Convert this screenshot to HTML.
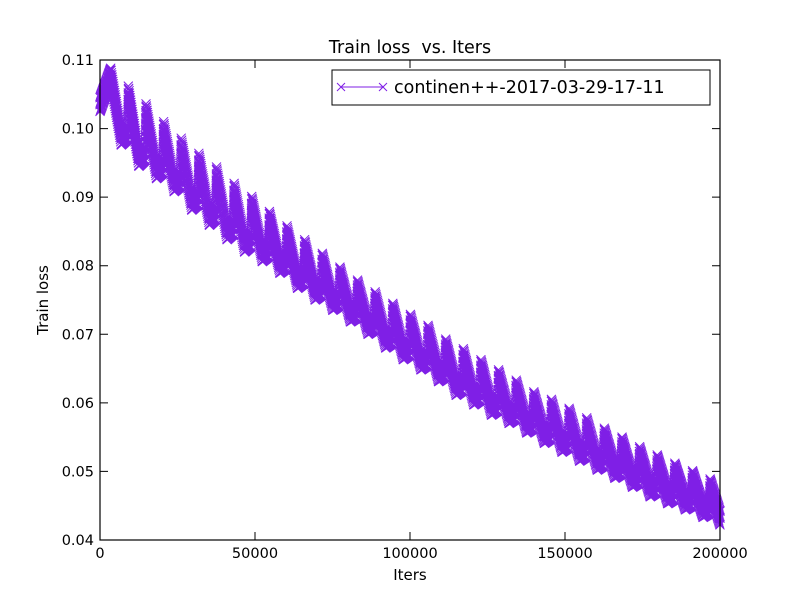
<!DOCTYPE html>
<html><head><meta charset="utf-8"><style>
body{margin:0;background:#fff;}
svg text{font-family:"DejaVu Sans","Liberation Sans",sans-serif;fill:#000;white-space:pre;}
</style></head><body>
<svg id="chart" width="800" height="600" xmlns="http://www.w3.org/2000/svg">
<rect width="800" height="600" fill="#fff"/>
<g id="ticks"></g>
<path id="series" fill="none" stroke="#7f1fe6" stroke-width="1"/>
<rect x="100" y="60" width="620" height="480" fill="none" stroke="#000" stroke-width="1.2"/>
<text x="410" y="53" font-size="17.5" text-anchor="middle" xml:space="preserve">Train loss  vs. Iters</text>
<text x="410" y="580" font-size="15" text-anchor="middle">Iters</text>
<text x="48" y="300" font-size="15" text-anchor="middle" transform="rotate(-90 48 300)">Train loss</text>
<g>
<rect x="332" y="70" width="378" height="35" fill="#fff" stroke="#000" stroke-width="1"/>
<line x1="341" y1="87" x2="383" y2="87" stroke="#7f1fe6"/>
<path d="M337 83L345 91M345 83L337 91M379 83L387 91M387 83L379 91" stroke="#7f1fe6"/>
<text x="394" y="93" font-size="17.5">continen++-2017-03-29-17-11</text>
</g>
</svg>
<script>
const startValue=0.1035;
const peakIters=[3450,9137,14824,20511,26198,31885,37572,43259,48946,54633,60320,66007,71694,77381,83068,88755,94442,100129,105816,111503,117190,122877,128564,134251,139938,145625,151312,156999,162686,168373,174060,179747,185434,191121,196808];
const peaks=[0.1088,0.1062,0.1036,0.1010,0.0986,0.0964,0.0944,0.0920,0.0901,0.0879,0.0858,0.0838,0.0818,0.0798,0.0779,0.0762,0.0745,0.0729,0.0713,0.0693,0.0679,0.0663,0.0648,0.0633,0.0616,0.0605,0.0592,0.0578,0.0563,0.0550,0.0536,0.0524,0.0512,0.0501,0.0489];
const troughs=[0.0976,0.0945,0.0927,0.0908,0.0881,0.0859,0.0838,0.0820,0.0806,0.0789,0.0767,0.0750,0.0735,0.0718,0.0700,0.0680,0.0663,0.0648,0.0631,0.0611,0.0597,0.0582,0.0570,0.0556,0.0541,0.0528,0.0515,0.0502,0.0490,0.0477,0.0463,0.0453,0.0444,0.0433,0.0422];
const xTicks=[0,50000,100000,150000,200000];
const yTicks=[0.04,0.05,0.06,0.07,0.08,0.09,0.10,0.11];
const X=v=>100+v/200000*620, Y=v=>540-(v-0.04)/0.07*480;
const tg=document.getElementById('ticks');
const ns='http://www.w3.org/2000/svg';
let td='';
xTicks.forEach(t=>{const x=X(t);td+=`M${x} 540V532M${x} 60V68`;
 const e=document.createElementNS(ns,'text');e.setAttribute('x',x);e.setAttribute('y',558);e.setAttribute('font-size','14.5');e.setAttribute('text-anchor','middle');e.textContent=t;
 
 
 tg.appendChild(e);});
yTicks.forEach(t=>{const y=Y(t);td+=`M100 ${y}H108M720 ${y}H712`;
 const e=document.createElementNS(ns,'text');e.setAttribute('x',94);e.setAttribute('y',y+5);e.setAttribute('font-size','14.5');e.setAttribute('text-anchor','end');e.textContent=t.toFixed(2);
 
 
 tg.appendChild(e);});
const tp=document.createElementNS(ns,'path');tp.setAttribute('d',td);tp.setAttribute('stroke','#000');


tg.appendChild(tp);
const band=0.001;
const keys=[[0,startValue]];
peakIters.forEach((pi,k)=>{
 const prevT=k?troughs[k-1]:startValue;
 const prevIt=keys[keys.length-1][0];
 const riseStart=pi-(pi-prevIt)*0.1;
 if(k)keys.push([riseStart,prevT+band+0.1*(peaks[k]-prevT)]);
 keys.push([pi,peaks[k]-band]);
 const next=k+1<peakIters.length?peakIters[k+1]:200000;
 const tIt=k+1<peakIters.length?pi+0.6*(next-pi):200000;
 keys.push([tIt,troughs[k]+band]);
});
const pts=[];
for(let j=1;j<keys.length;j++){
 const [a,va]=keys[j-1],[b,vb]=keys[j];
 const steep=Math.abs(vb-va)/(b-a)>3e-6;
 const step=steep?30:120;
 for(let it=a;it<b;it+=step)pts.push([it,va+(vb-va)*(it-a)/(b-a)]);
}
pts.push(keys[keys.length-1]);
let d='',line='';
pts.forEach((p,k)=>{const x=X(p[0]);
 [-band,0,band].forEach(o=>{
  const y=Y(p[1]+o);
  if(o===0)line+=(k?'L':'M')+x.toFixed(1)+' '+y.toFixed(1);
  d+=`M${(x-4.5).toFixed(1)} ${(y-4.5).toFixed(1)}l9 9m0 -9l-9 9`;
 });});
document.getElementById('series').setAttribute('d',line+d);
</script>
</body></html>
